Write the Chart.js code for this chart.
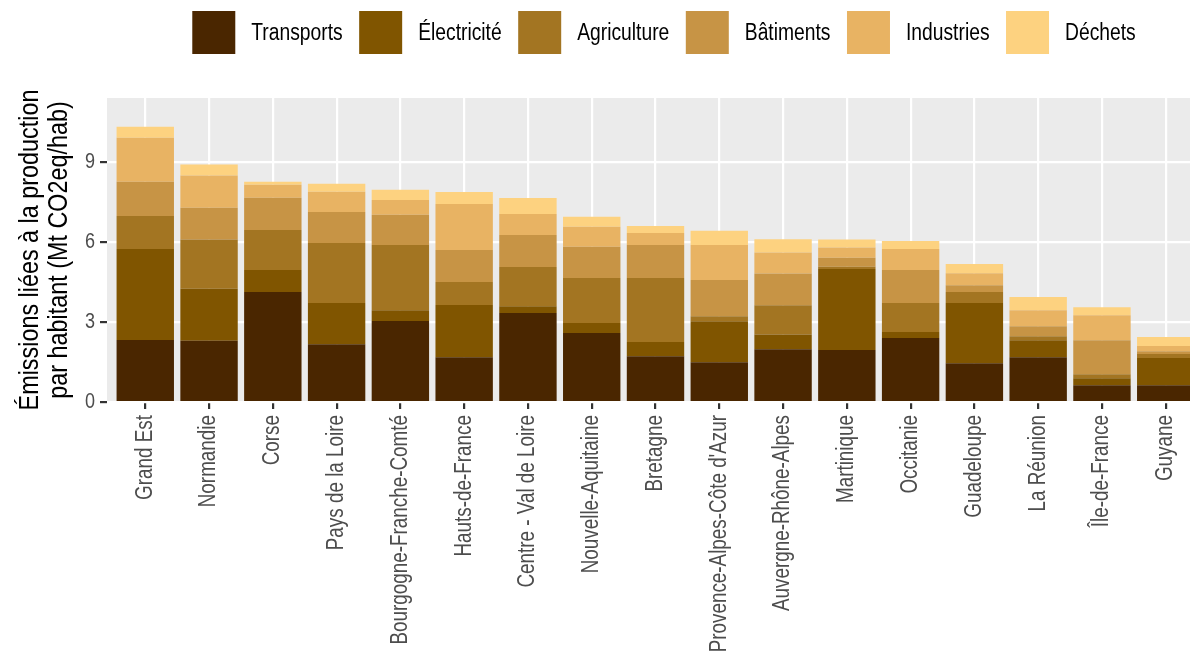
<!DOCTYPE html>
<html>

<head>
    <meta charset="utf-8">
    <title>Émissions par habitant</title>
    <script src="https://cdn.jsdelivr.net/npm/chart.js"></script>
    <style>
        body { margin: 0; overflow: hidden; background: #fff; }
        #wrap { width: 1212px; height: 657px; } /* wider than the window: the right edge is cut like the original */
    </style>
</head>

<body>

    <div id="wrap">
        <canvas id="myChart"></canvas>
    </div>

    <script>
        // Regions, sorted by total emissions
        const regions = ['Grand Est', 'Normandie', 'Corse', 'Pays de la Loire', 'Bourgogne-Franche-Comté',
            'Hauts-de-France', 'Centre - Val de Loire', 'Nouvelle-Aquitaine', 'Bretagne',
            "Provence-Alpes-Côte d'Azur", 'Auvergne-Rhône-Alpes', 'Martinique', 'Occitanie',
            'Guadeloupe', 'La Réunion', 'Île-de-France', 'Guyane'];

        const sectors = ['Transports', 'Électricité', 'Agriculture', 'Bâtiments', 'Industries', 'Déchets'];
        const sectorColors = ['#4A2600', '#805500', '#A37522', '#C79445', '#E8B363', '#FDD280'];

        // Mt CO2eq per inhabitant
        const transports  = [2.33, 2.30, 4.13, 2.17, 3.04, 1.68, 3.34, 2.59, 1.72, 1.49, 1.98, 1.95, 2.40, 1.46, 1.68, 0.63, 0.63];
        const electricite = [3.42, 1.95, 0.83, 1.55, 0.41, 1.96, 0.26, 0.38, 0.53, 1.54, 0.56, 3.05, 0.23, 2.26, 0.64, 0.26, 1.02];
        const agriculture = [1.24, 1.85, 1.50, 2.25, 2.45, 0.87, 1.47, 1.69, 2.41, 0.19, 1.09, 0.08, 1.09, 0.41, 0.15, 0.15, 0.15];
        const batiments   = [1.28, 1.20, 1.21, 1.17, 1.13, 1.20, 1.20, 1.17, 1.24, 1.36, 1.20, 0.34, 1.24, 0.26, 0.38, 1.28, 0.11];
        const industries  = [1.66, 1.21, 0.49, 0.76, 0.56, 1.73, 0.79, 0.75, 0.45, 1.32, 0.79, 0.38, 0.79, 0.45, 0.60, 0.94, 0.19];
        const dechets     = [0.41, 0.41, 0.11, 0.30, 0.38, 0.45, 0.60, 0.38, 0.26, 0.53, 0.49, 0.30, 0.30, 0.34, 0.49, 0.30, 0.34];

        const yTicks = [0, 3, 6, 9];
        const yMax = 11.42;

        const series = [transports, electricite, agriculture, batiments, industries, dechets];
        const fontFamily = "'Liberation Sans', Arial, sans-serif";

        Chart.defaults.font.family = fontFamily;

        var ctx = document.getElementById('myChart').getContext('2d');

        // no narrow font installed: squeeze the regular one so it looks like Arial Narrow
        const squeeze = 0.82;
        const rawFill = ctx.fillText.bind(ctx);
        const rawMeasure = ctx.measureText.bind(ctx);
        ctx.fillText = function (text, x, y, maxWidth) {
            this.save();
            this.translate(x, y);
            this.scale(squeeze, 1);
            if (maxWidth !== undefined) rawFill(text, 0, 0, maxWidth / squeeze);
            else rawFill(text, 0, 0);
            this.restore();
        };
        ctx.measureText = function (text) {
            const m = rawMeasure(text);
            return {
                width: m.width * squeeze,
                actualBoundingBoxAscent: m.actualBoundingBoxAscent,
                actualBoundingBoxDescent: m.actualBoundingBoxDescent,
                actualBoundingBoxLeft: m.actualBoundingBoxLeft * squeeze,
                actualBoundingBoxRight: m.actualBoundingBoxRight * squeeze
            };
        };

        // grey ggplot panel behind the bars
        const panelBg = {
            id: 'panelBg',
            beforeDraw(chart) {
                const a = chart.chartArea;
                const c = chart.ctx;
                c.save();
                c.fillStyle = '#EBEBEB';
                c.fillRect(a.left, a.top, a.right - a.left, a.bottom - a.top);
                c.restore();
            }
        };

        // legend on top, big square keys like ggplot
        const ggLegend = {
            id: 'ggLegend',
            afterDraw(chart) {
                const c = chart.ctx;
                const box = 43, gap = 16, spacing = 16.5, center = 664, top = 11;
                c.save();
                c.font = '23.5px ' + fontFamily;
                const items = chart.data.datasets.map(d => ({
                    label: d.label, color: d.backgroundColor, w: c.measureText(d.label).width
                }));
                const total = items.reduce((s, it) => s + box + gap + it.w, 0) + spacing * (items.length - 1);
                let x = center - total / 2;
                c.textBaseline = 'middle';
                items.forEach(it => {
                    c.fillStyle = it.color;
                    c.fillRect(x, top, box, box);
                    c.fillStyle = '#000';
                    c.fillText(it.label, x + box + gap, top + box / 2 + 1);
                    x += box + gap + it.w + spacing;
                });
                c.restore();
            }
        };

        var myChart = new Chart(ctx, {
            type: 'bar',
            data: {
                datasets: sectors.map((s, k) => ({
                    label: s,
                    data: series[k].map((v, i) => ({ x: i + 1, y: v })),
                    backgroundColor: sectorColors[k],
                    borderWidth: 0,
                    barPercentage: 0.9,
                    categoryPercentage: 1
                }))
            },
            options: {
                responsive: true,
                maintainAspectRatio: false,
                animation: false,
                layout: { padding: { top: 98, right: 8, left: 0, bottom: 0 } },
                plugins: {
                    legend: { display: false },
                    tooltip: { enabled: false }
                },
                scales: {
                    x: {
                        type: 'linear',
                        stacked: true,
                        min: 0.4,
                        max: regions.length + 0.6,
                        offset: false,
                        afterBuildTicks: (scale) => { scale.ticks = regions.map((r, i) => ({ value: i + 1 })); },
                        afterFit: (scale) => { scale.height = 255; },
                        grid: { color: '#FFFFFF', lineWidth: 2.2, offset: false, tickLength: 7, tickColor: '#333333' },
                        border: { display: false },
                        ticks: {
                            autoSkip: false,
                            maxRotation: 90,
                            minRotation: 90,
                            padding: 6,
                            color: '#4D4D4D',
                            font: { size: 23 },
                            callback: (v) => regions[v - 1]
                        }
                    },
                    y: {
                        stacked: true,
                        min: 0,
                        max: yMax,
                        afterBuildTicks: (scale) => { scale.ticks = yTicks.map(v => ({ value: v })); },
                        afterFit: (scale) => { scale.width = 107; },
                        grid: { color: '#FFFFFF', lineWidth: 2.2, tickLength: 7, tickColor: '#333333' },
                        border: { display: false },
                        ticks: { padding: 5, color: '#4D4D4D', font: { size: 22 } },
                        title: {
                            display: true,
                            text: ['Émissions liées à la production', 'par habitant (Mt CO2eq/hab)'],
                            color: '#000000',
                            font: { size: 28.5, lineHeight: 1.04 },
                            padding: { top: 15, bottom: 0 }
                        }
                    }
                }
            },
            plugins: [panelBg, ggLegend]
        });
    </script>

</body>

</html>
